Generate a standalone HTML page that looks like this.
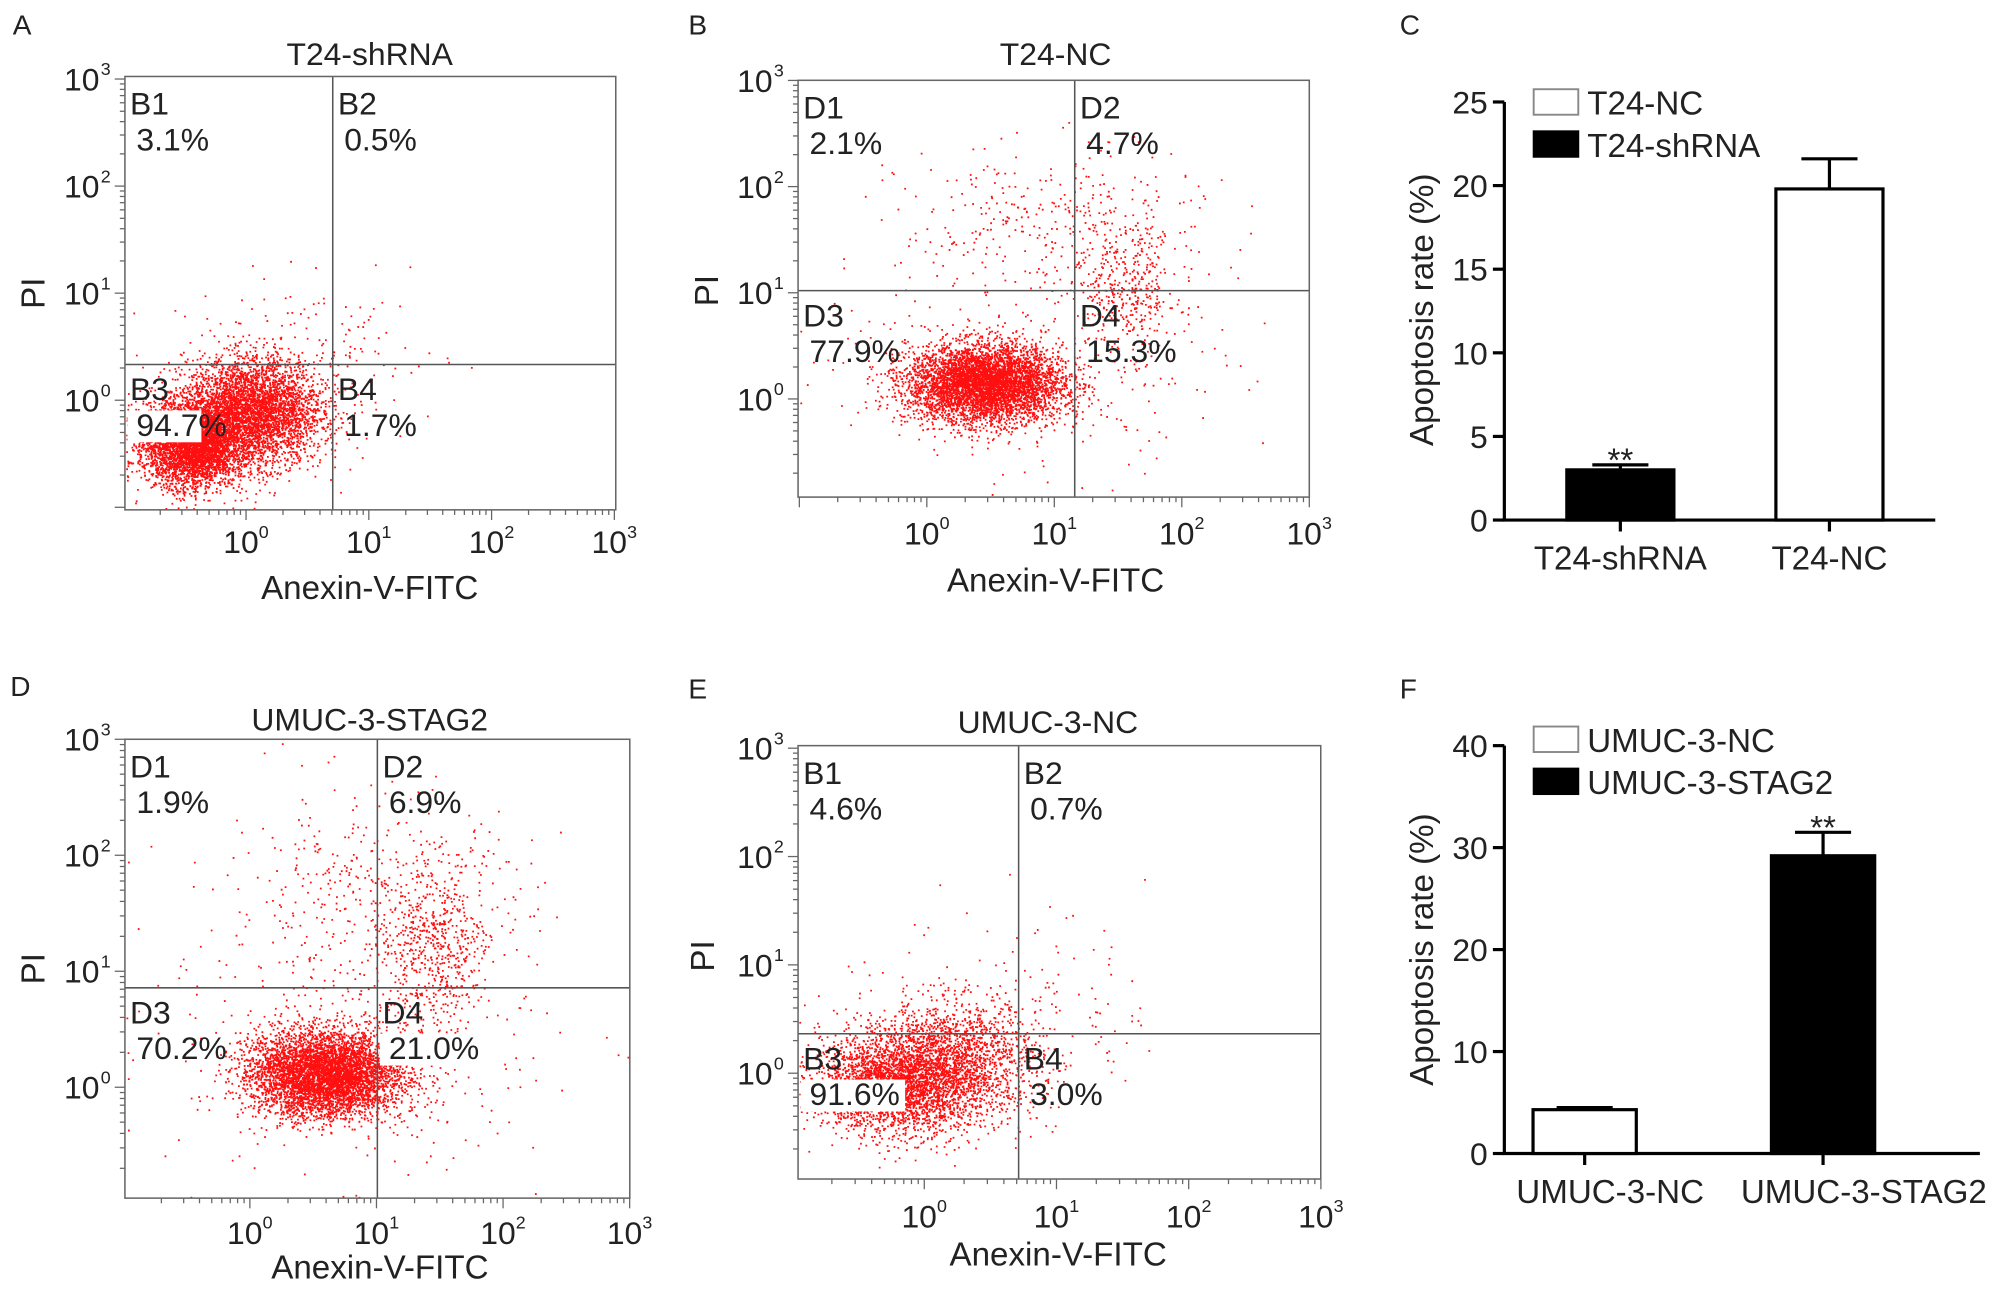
<!DOCTYPE html>
<html><head><meta charset="utf-8"><style>
html,body{margin:0;padding:0;background:#fff}
svg{display:block}
text{font-family:"Liberation Sans",Arial,sans-serif;fill:#222}
</style></head><body>
<svg id="fig" width="1999" height="1295" viewBox="0 0 1568 1016" preserveAspectRatio="none" xmlns="http://www.w3.org/2000/svg"></svg>
<script>
// ---- Bar chart data ----
const cCategories = ["T24-shRNA","T24-NC"];
const cValues = [3.0, 19.8];
const cErrors = [0.3, 1.8];
const cTicks = [0,5,10,15,20,25];
const fCategories = ["UMUC-3-NC","UMUC-3-STAG2"];
const fValues = [4.3, 29.2];
const fErrors = [0.2, 2.3];
const fTicks = [0,10,20,30,40];
// ---- Flow-cytometry panels: quadrant labels / percentages ----
const aQuad = ["B1","B2","B3","B4"]; const aPct = ["3.1%","0.5%","94.7%","1.7%"];
const bQuad = ["D1","D2","D3","D4"]; const bPct = ["2.1%","4.7%","77.9%","15.3%"];
const dQuad = ["D1","D2","D3","D4"]; const dPct = ["1.9%","6.9%","70.2%","21.0%"];
const eQuad = ["B1","B2","B3","B4"]; const ePct = ["4.6%","0.7%","91.6%","3.0%"];
// cell population clusters: [centerLogX, centerLogY, sdX, sdY, count]
const aClusters = [[-0.45,-0.4,0.2,0.2,9000],[0.05,-0.1,0.28,0.25,4000],[0.6,0.4,0.5,0.35,150]];
const bClusters = [[0.45,0.15,0.3,0.18,8000],[1.55,1.0,0.22,0.3,400],[1.0,1.65,0.6,0.35,350],[0.8,0.3,0.8,0.5,250]];
const dClusters = [[0.6,0.12,0.3,0.18,10000],[1.45,1.2,0.2,0.33,500],[1.0,1.6,0.6,0.45,500],[0.8,0.3,0.8,0.5,350]];
const eClusters = [[-0.25,-0.1,0.28,0.23,10000],[0.2,0.1,0.33,0.28,2000],[0.7,0.6,0.5,0.5,150]];

const NS="http://www.w3.org/2000/svg";
const svg=document.getElementById('fig');
const FS=25;
function el(tag,attrs,parent){const e=document.createElementNS(NS,tag);for(const k in attrs)e.setAttribute(k,attrs[k]);(parent||svg).appendChild(e);return e;}
function txt(x,y,s,size,anchor,parent,extra){const t=el('text',Object.assign({x:x,y:y,'font-size':size,'text-anchor':anchor||'start'},extra||{}),parent);t.textContent=s;return t;}
let seed=12345;
function rnd(){seed=(seed*1103515245+12345)%2147483648;return seed/2147483648;}
function gauss(){let u=rnd()||1e-9,v=rnd();return Math.sqrt(-2*Math.log(u))*Math.cos(2*Math.PI*v);}

function panelLetter(x,y,s){const t=txt(x,y,s,22,'start');}

function flow(cfg){
  const g=el('g',{});
  
  
  const {L,R,T,B,xd0,xdw,yd0,ydw}=cfg;
  const sx=v=>xd0+v*xdw, sy=v=>yd0-v*ydw;
  const dots=el('g',{},g);
  
  
  let path='';
  cfg.clusters.forEach(c=>{
    for(let i=0;i<c[4];i++){
      let x=sx(c[0]+gauss()*c[2]), y=sy(c[1]+gauss()*c[3]);
      if(x<L+1)x=L+1+rnd()*1.5; if(y>B-1)y=B-1-rnd()*1.5;
      if(x>R-1||y<T+1)continue;
      path+='M'+x.toFixed(1)+' '+y.toFixed(1)+'h1.4v1.4h-1.4z';
    }
  });
  el('path',{d:path,fill:'#ff1010'},dots);
  const vl=el('line',{x1:cfg.qx,x2:cfg.qx,y1:T,y2:B,stroke:'#555','stroke-width':1.2},g);
  
  const hl=el('line',{x1:L,x2:R,y1:cfg.qy,y2:cfg.qy,stroke:'#555','stroke-width':1.2},g);
  
  const fr=el('rect',{x:L,y:T,width:R-L,height:B-T,fill:'none',stroke:'#666','stroke-width':1.2},g);
  
  const ax=el('g',{stroke:'#666','stroke-width':1},g);
  for(let d=-1;d<=3;d++){
    for(let k=1;k<=9;k++){
      const v=d+Math.log10(k);
      const X=sx(v); if(X>=L-0.5&&X<=R+0.5) el('line',{x1:X,x2:X,y1:B,y2:B+(k==1?8:4)},ax);
      const Y=sy(v); if(Y>=T-0.5&&Y<=B+0.5) el('line',{x1:L,x2:L-(k==1?8:4),y1:Y,y2:Y},ax);
    }
  }
  for(let d=0;d<=3;d++){
    const t1=txt(sx(d)-4,cfg.xty,'10',FS,'middle',g);
    txt(sx(d)+10,cfg.xty-12,String(d),14,'start',g);
    const t2=txt(L-20,sy(d)+9,'10',FS,'end',g);
    txt(L-19,sy(d)-3,String(d),14,'start',g);
  }
  const ti=txt(cfg.tx,cfg.ty,cfg.title,FS,'middle',g);
  const xl=txt(cfg.xlx,cfg.xly,'Anexin-V-FITC',26,'middle',g);
  const yl=txt(0,0,'PI',26,'middle',g,{transform:'translate('+cfg.ylx+','+cfg.yly+') rotate(-90)'});
  const pos=[[L+4,T+30],[cfg.qx+4,T+30],[L+4,cfg.qy+28],[cfg.qx+4,cfg.qy+28]];
  pos.forEach((p,i)=>{
    if(i>=2&&cfg.boxw[i-2]){el('rect',{x:p[0]-2,y:p[1]+8,width:cfg.boxw[i-2],height:25,fill:'#fff'},g);}
    const q=txt(p[0],p[1],cfg.quad[i],FS,'start',g);
    const pc=txt(p[0]+5,p[1]+28,cfg.pct[i],FS,'start',g);
  });
}

flow({name:'flow-panel-a',L:98,R:483,T:60,B:400,xd0:193,xdw:96.3,yd0:314,ydw:84,qx:261,qy:286,clusters:aClusters,
  quad:aQuad,pct:aPct,title:'T24-shRNA',tx:290,ty:51,xlx:290,xly:470,ylx:35,yly:230,xty:434,boxw:[58,0]});
flow({name:'flow-panel-b',L:626,R:1027,T:63,B:390,xd0:727,xdw:100,yd0:313,ydw:83.3,qx:843,qy:228,clusters:bClusters,
  quad:bQuad,pct:bPct,title:'T24-NC',tx:828,ty:51,xlx:828,xly:464,ylx:563,yly:228,xty:427,boxw:[0,0]});
flow({name:'flow-panel-d',L:98,R:494,T:580,B:940,xd0:196,xdw:99.3,yd0:853,ydw:91,qx:296,qy:775,clusters:dClusters,
  quad:dQuad,pct:dPct,title:'UMUC-3-STAG2',tx:290,ty:573,xlx:298,xly:1003,ylx:35,yly:760,xty:976,boxw:[0,82]});
flow({name:'flow-panel-e',L:626,R:1036,T:585,B:925,xd0:725,xdw:103.7,yd0:842,ydw:85,qx:799,qy:811,clusters:eClusters,
  quad:eQuad,pct:ePct,title:'UMUC-3-NC',tx:822,ty:575,xlx:830,xly:993,ylx:560,yly:750,xty:963,boxw:[82,0]});

panelLetter(10,27,'A');panelLetter(540,27,'B');panelLetter(1098,27,'C');
panelLetter(8,546,'D');panelLetter(540,548,'E');panelLetter(1098,548,'F');

function bars(cfg){
  const g=el('g',{});
  
  
  const sy=v=>cfg.y0-(v/cfg.max)*(cfg.y0-cfg.ytop);
  const ax=el('path',{d:'M'+cfg.ax+' '+cfg.ytop+'V'+cfg.y0+'H'+cfg.xend,fill:'none',stroke:'#000','stroke-width':2.5},g);
  
  cfg.ticks.forEach(t=>{
    el('line',{x1:cfg.ax-9,x2:cfg.ax,y1:sy(t),y2:sy(t),stroke:'#000','stroke-width':2.5},g);
    const tl=txt(cfg.ax-13,sy(t)+9,String(t),FS,'end',g);
  });
  cfg.cats.forEach((c,i)=>{
    const cx=cfg.cx[i], w=cfg.bw;
    const v=cfg.vals[i], e=cfg.errs[i], black=cfg.black[i];
    const ey=el('path',{d:'M'+cx+' '+sy(v)+'V'+sy(v+e)+'M'+(cx-22)+' '+sy(v+e)+'H'+(cx+22),stroke:'#000','stroke-width':2.5,fill:'none'},g);
    
    const r=el('rect',{x:cx-w/2,y:sy(v),width:w,height:sy(0)-sy(v),fill:black?'#000':'#fff',stroke:'#000','stroke-width':2.5},g);
    
    el('line',{x1:cx,x2:cx,y1:cfg.y0,y2:cfg.y0+9,stroke:'#000','stroke-width':2.5},g);
    const cl=txt(cfg.lx[i],cfg.y0+39,c,26,'middle',g);
    if(cfg.star[i]){const s=txt(cx,sy(v+e)+11,'**',26,'middle',g,{dy:'-0.15em'});s.setAttribute('y',sy(v+e)+9);}
  });
  const yl=txt(0,0,'Apoptosis rate (%)',26,'middle',g,{transform:'translate('+1124+','+cfg.ylMid+') rotate(-90)'});
  
  cfg.legend.forEach((l,i)=>{
    const y=cfg.legY+i*33;
    const lg=el('g',{},g);
    el('rect',{x:1203,y:y,width:35,height:20,fill:l[1]?'#000':'#fff',stroke:l[1]?'#000':'#888','stroke-width':1.5},lg);
    txt(1245,y+20,l[0],26,'start',lg);
  });
}
bars({name:'bar-chart-c',ax:1180,ytop:80,y0:408,xend:1518,max:25,ticks:cTicks,cats:cCategories,vals:cValues,errs:cErrors,
  cx:[1271,1435],lx:[1271,1435],bw:84,black:[true,false],star:[true,false],ylMid:243,legY:70,legend:[['T24-NC',false],['T24-shRNA',true]]});
bars({name:'bar-chart-f',ax:1180,ytop:585,y0:905,xend:1553,max:40,ticks:fTicks,cats:fCategories,vals:fValues,errs:fErrors,
  cx:[1243,1430],lx:[1263,1462],bw:81,black:[false,true],star:[false,true],ylMid:745,legY:570,legend:[['UMUC-3-NC',false],['UMUC-3-STAG2',true]]});
</script>
</body></html>
